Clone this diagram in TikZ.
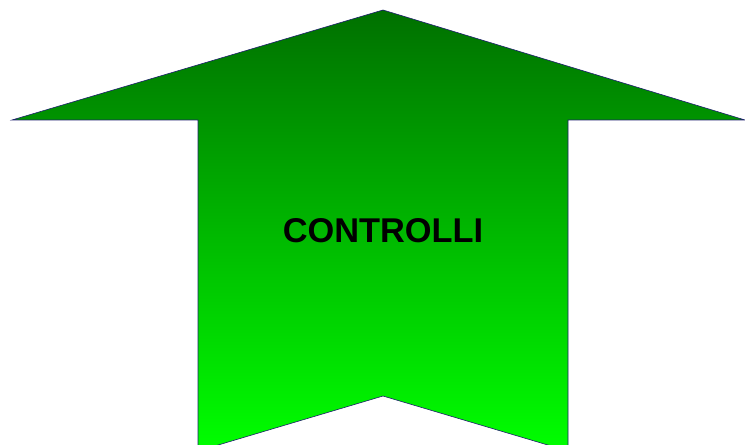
\documentclass[tikz,border=0pt]{standalone}
\usepackage{fontspec}
\setmainfont{Liberation Sans}
\definecolor{arrowtop}{RGB}{0,112,0}
\definecolor{arrowbottom}{RGB}{0,255,0}
\definecolor{arrowline}{RGB}{30,30,110}
\tikzset{
  bigarrow/.style={
    draw=arrowline,
    line width=0.6pt,
    line join=miter,
    top color=arrowtop,
    bottom color=arrowbottom
  },
  caption/.style={
    font=\bfseries\fontsize{34.5}{40}\selectfont,
    text=black,
    inner sep=0pt
  }
}

\begin{document}
\begin{tikzpicture}[x=1bp, y=-1bp]
  \useasboundingbox (0,0) rectangle (745,445);
  \begin{scope}
    \clip (0,0) rectangle (745,445);
    \path[bigarrow]
      (383,10) -- (745,120) -- (568,120) -- (568,451)
      -- (383,396) -- (198,451) -- (198,120) -- (12,120) -- cycle;
  \end{scope}
  \node[caption] (titolo) at (383,231) {CONTROLLI};
\end{tikzpicture}
\end{document}
